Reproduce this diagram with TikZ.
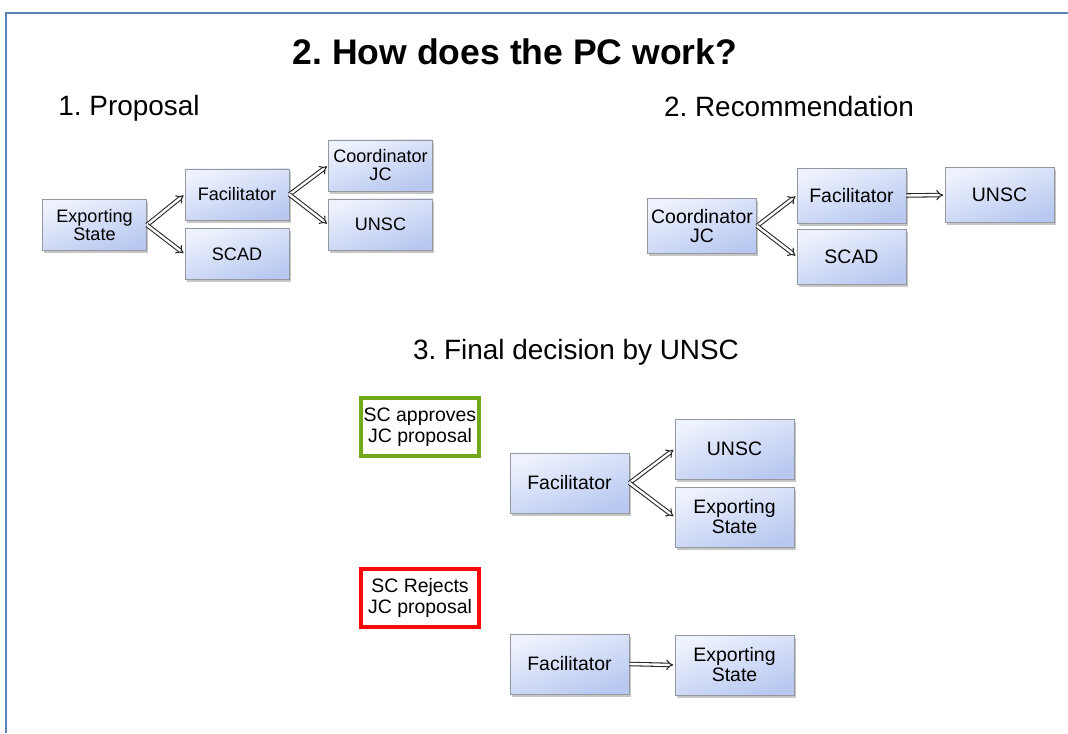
\documentclass[tikz,border=0pt]{standalone}
\usepackage{fontspec}
\setmainfont{Liberation Sans}
\usetikzlibrary{arrows.meta,shadows}
\frenchspacing

\definecolor{framecol}{RGB}{91,130,186}
\definecolor{boxlow}{RGB}{184,200,240}
\definecolor{boxhigh}{RGB}{238,242,253}
\definecolor{boxline}{RGB}{150,152,160}
\definecolor{okgreen}{RGB}{112,170,28}
\definecolor{nored}{RGB}{250,10,10}

\tikzset{
	pcbox/.style={draw=boxline, line width=0.6pt, top color=boxhigh,
		bottom color=boxlow, shading angle=20, align=center,
		inner sep=1pt, drop shadow={opacity=0.45, shadow xshift=1.2pt,
		shadow yshift=-1.8pt}},
	smallbox/.style={pcbox, minimum width=73.7pt, minimum height=36.2pt,
		font=\fontsize{12.8}{12.8}\selectfont},
	midbox/.style={pcbox, minimum width=77.3pt, minimum height=39pt,
		font=\fontsize{13.8}{13.8}\selectfont},
	bigbox/.style={pcbox, minimum width=84.4pt, minimum height=42.5pt,
		font=\fontsize{13.8}{14.2}\selectfont},
	scbox/.style={draw=#1, line width=2.8pt, fill=white, align=center,
		minimum width=83pt, minimum height=41pt, inner sep=0pt,
		font=\fontsize{13.8}{15}\selectfont},
	flow/.style={draw=black!85, line width=0.75pt, double=white,
		double distance=1.7pt, -{Implies[length=3.5pt]}, shorten >=1pt},
	heading/.style={font=\fontsize{19.8}{20}\selectfont}
}

\begin{document}
\begin{tikzpicture}[x=0.709pt, y=-0.709pt]
	\useasboundingbox (0,0) rectangle (1068,733);
	% Rahmen
	\draw[framecol, line width=1.5pt] (6,733) -- (6,13) -- (1068,13);

	% Ueberschriften
	\node[font=\bfseries\fontsize{25.2}{26}\selectfont] (title) at (515,52)
	{2. How does the PC work?};
	\node[heading] (head1) at (129,108) {1. Proposal};
	\node[heading] (head2) at (789,107) {2. Recommendation};
	\node[heading] (head3) at (576,352) {3. Final decision by UNSC};

	% 1. Proposal
	\node[smallbox] (es1) at (94.5,225) {Exporting\\State};
	\node[smallbox] (fac1) at (237,194.5) {Facilitator};
	\node[smallbox] (scad1) at (237,254) {SCAD};
	\node[smallbox] (jc1) at (380.5,165.5) {Coordinator\\JC};
	\node[smallbox] (unsc1) at (380.5,224.5) {UNSC};
	\draw[flow] (es1.east) -- (fac1.west);
	\draw[flow] (es1.east) -- (scad1.west);
	\draw[flow] (fac1.east) -- (jc1.west);
	\draw[flow] (fac1.east) -- (unsc1.west);

	% 2. Recommendation
	\node[midbox] (jc2) at (702,226) {Coordinator\\JC};
	\node[midbox] (fac2) at (851.5,195.5) {Facilitator};
	\node[midbox] (scad2) at (851.5,256.5) {SCAD};
	\node[midbox] (unsc2) at (999.5,195) {UNSC};
	\draw[flow] (jc2.east) -- (fac2.west);
	\draw[flow] (jc2.east) -- (scad2.west);
	\draw[flow] (fac2.east) -- (unsc2.west);

	% 3. Final decision
	\node[scbox=okgreen] (yes) at (420,427) {SC approves\\JC proposal};
	\node[bigbox] (fac3) at (569.5,483) {Facilitator};
	\node[bigbox] (unsc3) at (734.5,449) {UNSC};
	\node[bigbox] (es3) at (734.5,517) {Exporting\\State};
	\draw[flow] (fac3.east) -- (unsc3.west);
	\draw[flow] (fac3.east) -- (es3.west);

	\node[scbox=nored] (no) at (420,598) {SC Rejects\\JC proposal};
	\node[bigbox] (fac4) at (569.5,664) {Facilitator};
	\node[bigbox] (es4) at (734.5,665) {Exporting\\State};
	\draw[flow] (fac4.east) -- (es4.west);
\end{tikzpicture}
\end{document}
